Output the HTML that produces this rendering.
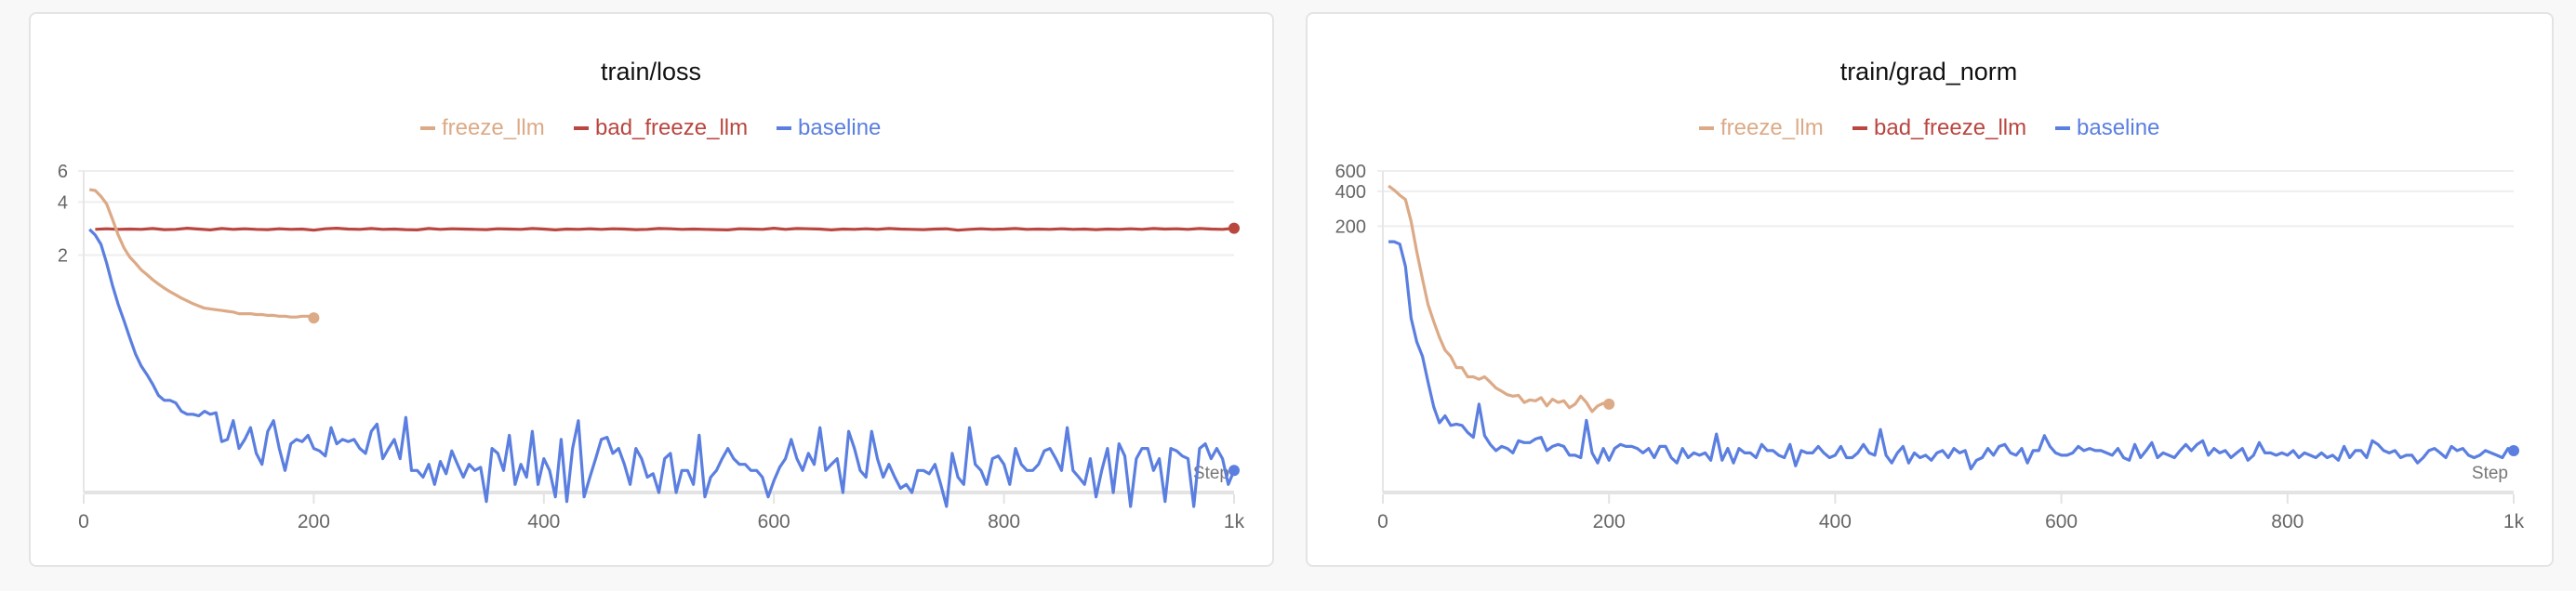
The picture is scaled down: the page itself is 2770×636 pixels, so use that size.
<!DOCTYPE html>
<html><head><meta charset="utf-8">
<style>
body{margin:0;background:#f8f8f8;width:2770px;height:636px;overflow:hidden;font-family:"Liberation Sans",sans-serif;}
.card{position:absolute;top:13px;height:597px;background:#fff;border:2px solid #e4e4e4;border-radius:8px;box-sizing:border-box;}
svg{position:absolute;left:0;top:0;}
</style></head>
<body>
<div class="card" style="left:31px;width:1339px;"></div>
<div class="card" style="left:1404px;width:1342px;"></div>
<svg id="s" width="2770" height="636"></svg>
<script>
const lossFreeze=[4.7,4.65,4.3,3.9,3.2,2.6,2.2,1.95,1.8,1.65,1.55,1.45,1.37,1.3,1.24,1.19,1.14,1.1,1.06,1.03,1.0,0.99,0.98,0.97,0.96,0.95,0.93,0.93,0.93,0.92,0.92,0.91,0.91,0.9,0.9,0.89,0.89,0.9,0.9,0.88];
const lossBad=[2.8,2.82,2.8,2.81,2.8,2.83,2.79,2.8,2.84,2.81,2.78,2.83,2.8,2.82,2.8,2.79,2.82,2.8,2.81,2.77,2.82,2.84,2.81,2.8,2.83,2.8,2.81,2.79,2.78,2.83,2.8,2.82,2.81,2.8,2.79,2.82,2.81,2.8,2.83,2.81,2.78,2.81,2.8,2.82,2.8,2.82,2.81,2.79,2.8,2.83,2.82,2.8,2.81,2.8,2.79,2.78,2.82,2.81,2.8,2.84,2.8,2.83,2.82,2.81,2.78,2.81,2.8,2.82,2.8,2.83,2.81,2.8,2.79,2.81,2.82,2.77,2.8,2.82,2.8,2.81,2.83,2.8,2.81,2.8,2.82,2.8,2.81,2.79,2.81,2.8,2.82,2.8,2.83,2.81,2.82,2.8,2.83,2.81,2.8,2.84];
const lossBase=[2.8,2.6,2.3,1.8,1.35,1.05,0.85,0.68,0.55,0.47,0.42,0.37,0.32,0.3,0.3,0.29,0.26,0.25,0.25,0.245,0.26,0.25,0.255,0.175,
0.18,0.23,0.16,0.18,0.21,0.15,0.13,0.2,0.23,0.16,0.12,0.17,0.18,0.175,0.19,0.16,0.155,0.145,0.21,0.17,0.18,0.175,0.18,0.16,0.15,0.2,0.22,0.14,0.16,0.18,
0.14,0.24,0.12,0.12,0.11,0.13,0.1,0.135,0.115,0.155,0.13,0.11,0.13,0.12,0.125,0.08,0.16,0.15,0.12,0.19,0.1,0.13,0.11,0.2,0.1,0.14,0.12,0.085,0.18,0.08,
0.16,0.23,0.085,0.11,0.14,0.18,0.185,0.15,0.16,0.13,0.1,0.16,0.14,0.11,0.115,0.09,0.14,0.15,0.09,0.12,0.12,0.1,0.19,0.085,0.11,0.12,0.14,0.16,0.14,0.13,
0.13,0.12,0.12,0.11,0.085,0.105,0.125,0.14,0.18,0.14,0.12,0.15,0.13,0.21,0.12,0.13,0.14,0.09,0.2,0.16,0.12,0.11,0.2,0.14,0.11,0.13,0.11,0.095,0.1,0.09,
0.12,0.12,0.115,0.13,0.1,0.075,0.15,0.11,0.1,0.21,0.13,0.12,0.1,0.14,0.145,0.13,0.1,0.16,0.13,0.12,0.12,0.13,0.155,0.16,0.14,0.12,0.21,0.12,0.11,0.1,
0.14,0.085,0.12,0.16,0.09,0.17,0.145,0.075,0.14,0.16,0.16,0.12,0.14,0.08,0.16,0.155,0.145,0.14,0.075,0.16,0.17,0.14,0.16,0.14,0.1,0.12];
const gradFreeze=[446,410,370,340,220,120,70,42,30,22,17,15,12,12,10,10,9.5,10,9,8,7.5,7,6.8,6.9,6,6.3,6.2,6.6,5.6,6.4,6.0,6.2,5.4,5.8,6.8,6.0,5.0,5.6,5.9,5.8];
const gradBase=[147,147,140,90,32,20,15,9,5.5,4,4.6,3.8,3.9,3.8,3.3,3,5.8,3.1,2.6,2.3,2.5,2.4,2.2,2.8,2.7,
2.7,2.9,3.0,2.3,2.5,2.6,2.5,2.1,2.1,2.0,4.2,2.2,1.8,2.4,1.9,2.4,2.6,2.5,2.5,2.4,2.2,2.4,2.0,2.5,2.5,2.0,1.8,2.4,2.0,2.2,
2.1,2.2,1.9,3.2,1.9,2.4,1.8,2.4,2.2,2.2,2.0,2.6,2.3,2.3,2.1,2.0,2.6,1.7,2.3,2.2,2.2,2.5,2.2,2.0,2.1,2.5,2.0,2.0,2.2,2.6,
2.2,2.1,3.5,2.1,1.8,2.2,2.5,1.8,2.2,2.0,2.1,1.9,2.2,2.3,2.0,2.4,2.2,2.3,1.6,1.9,2.0,2.4,2.1,2.5,2.6,2.2,2.1,2.4,1.8,2.3,
2.3,3.1,2.5,2.2,2.1,2.1,2.2,2.5,2.3,2.4,2.3,2.3,2.2,2.1,2.4,2.0,1.9,2.6,2.0,2.3,2.7,2.0,2.2,2.1,2.0,2.3,2.6,2.3,2.6,2.8,
2.1,2.4,2.2,2.3,2.0,2.2,2.4,1.9,2.1,2.7,2.2,2.2,2.1,2.2,2.1,2.3,2.0,2.2,2.1,2.0,2.2,2.0,2.1,1.9,2.5,2.0,2.3,2.3,2.0,2.8,
2.6,2.3,2.2,2.3,2.0,2.1,2.1,1.8,2.0,2.3,2.4,2.2,2.0,2.5,2.3,2.4,2.1,2.0,2.1,2.3,2.2,2.1,2.0,2.4,2.3];
const xTicks=[0,200,400,600,800,1000];
const xTickLabels=["0","200","400","600","800","1k"];
const lossTicks=[2,4,6], gradTicks=[200,400,600];
const legendNames=["freeze_llm","bad_freeze_llm","baseline"];
const COLORS=["#dcaa86","#b9463f","#5b7fe0"];

const NS="http://www.w3.org/2000/svg", S=document.getElementById('s');
function el(t,a,txt){const e=document.createElementNS(NS,t);for(const k in a)e.setAttribute(k,a[k]);if(txt!==undefined)e.textContent=txt;S.appendChild(e);return e;}

function chart(cfg){
  const {x0,x1,y0,y1,ymin,ymax}=cfg;
  const X=s=>x0+(x1-x0)*s/1000;
  const Y=v=>y0+(y1-y0)*(Math.log(ymax)-Math.log(v))/(Math.log(ymax)-Math.log(ymin));
  let t=el('text',{x:cfg.cx,y:86,'text-anchor':'middle','font-size':27,fill:'#111'},cfg.title);
  
  
  const offs=[0,165,383];
  legendNames.forEach((n,i)=>{
    const lx=cfg.legX+offs[i];
    let r=el('rect',{x:lx,y:136,width:16,height:4,fill:COLORS[i]});
    
    
    let tx=el('text',{x:lx+23,y:145,'font-size':24,fill:COLORS[i]},n);
    
    
  });
  cfg.ticks.forEach(v=>{
    let g=el('line',{x1:x0-6,x2:x1,y1:Y(v),y2:Y(v),stroke:'#eeeeee','stroke-width':2});
    
    
    let tl=el('text',{x:cfg.labX,y:Y(v)+7,'text-anchor':'end','font-size':20,fill:'#666'},String(v));
    
    
  });
  let ya=el('line',{x1:x0,x2:x0,y1:y0,y2:y1,stroke:'#e6e6e6','stroke-width':2});
  
  
  let xa=el('line',{x1:x0,x2:x1,y1:y1,y2:y1,stroke:'#e3e3e3','stroke-width':4});
  
  
  xTicks.forEach((s,i)=>{
    let tk=el('line',{x1:X(s),x2:X(s),y1:y1+2,y2:y1+12,stroke:'#e3e3e3','stroke-width':2});
    
    
    let tl=el('text',{x:X(s),y:y1+38,'text-anchor':'middle','font-size':21,fill:'#666'},xTickLabels[i]);
    
    
  });
  let st=el('text',{x:cfg.stepX,y:y1-15,'text-anchor':'end','font-size':19,fill:'#777'},'Step');
  
  
  cfg.series.forEach(sr=>{
    const pts=sr.vals.map((v,i)=>[X(sr.step(i)),Y(v)]);
    let p=el('polyline',{points:pts.map(q=>q[0].toFixed(1)+','+q[1].toFixed(1)).join(' '),fill:'none',stroke:COLORS[sr.c],'stroke-width':3.2,'stroke-linejoin':'round'});
    
    
    const q=pts[pts.length-1];
    let d=el('circle',{cx:q[0],cy:q[1],r:6,fill:COLORS[sr.c]});
    
    
  });
}
chart({key:'loss',title:'train/loss',cx:700,legX:452,labX:73,x0:90,x1:1327,y0:184,y1:530,ymin:0.09,ymax:6,ticks:lossTicks,stepX:1322,
  series:[{vals:lossBad,c:1,step:i=>10*(i+1)},{vals:lossFreeze,c:0,step:i=>5*(i+1)},{vals:lossBase,c:2,step:i=>5*(i+1)}]});
chart({key:'grad',title:'train/grad_norm',cx:2074,legX:1827,labX:1469,x0:1487,x1:2703,y0:184,y1:530,ymin:1,ymax:600,ticks:gradTicks,stepX:2697,
  series:[{vals:gradFreeze,c:0,step:i=>5*(i+1)},{vals:gradBase,c:2,step:i=>5*(i+1)}]});
</script>
</body></html>
